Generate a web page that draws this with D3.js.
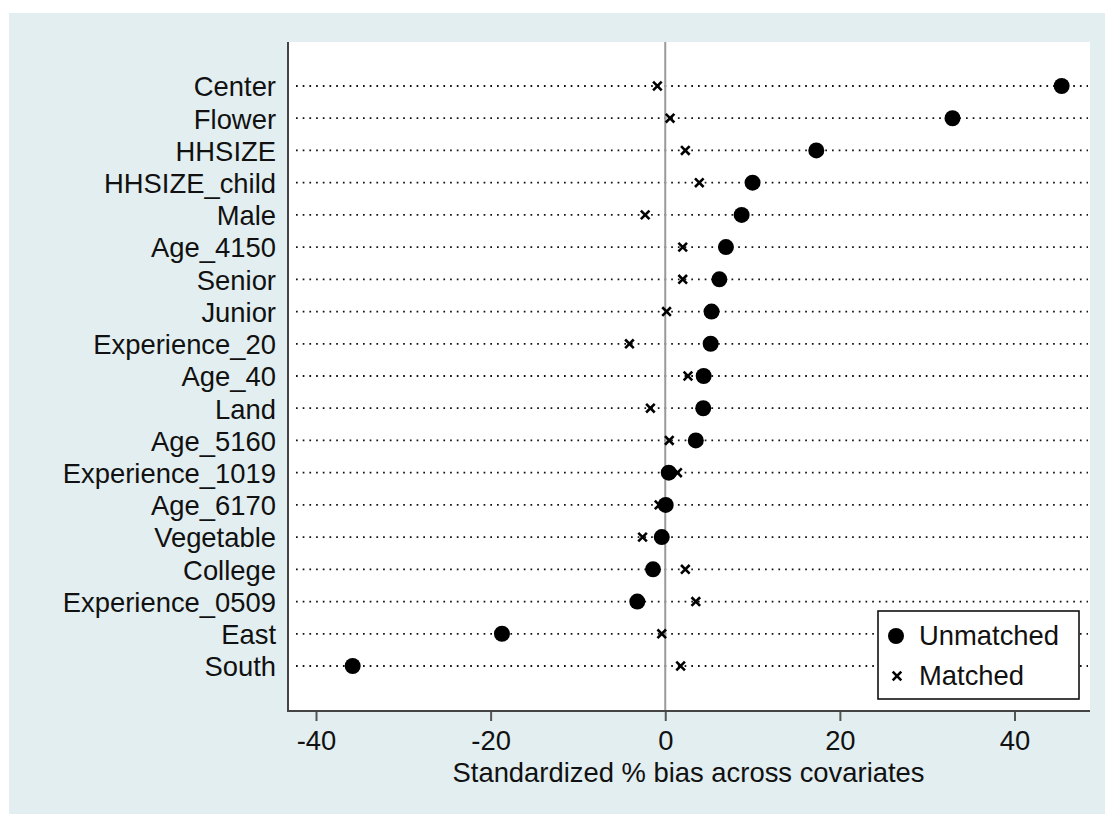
<!DOCTYPE html>
<html>
<head>
<meta charset="utf-8">
<script src="https://cdn.jsdelivr.net/npm/d3@7"></script>
<style>
html,body{margin:0;padding:0;background:#ffffff;}
svg{display:block;}
text{font-family:"Liberation Sans",Arial,sans-serif;fill:#111;}
</style>
</head>
<body>
<script>
const categories = ["Center","Flower","HHSIZE","HHSIZE_child","Male","Age_4150","Senior","Junior","Experience_20","Age_40","Land","Age_5160","Experience_1019","Age_6170","Vegetable","College","Experience_0509","East","South"];
const unmatched = [45.4,32.9,17.3,10.0,8.75,6.95,6.2,5.3,5.2,4.4,4.35,3.5,0.4,0.05,-0.4,-1.4,-3.2,-18.7,-35.8];
const matched = [-0.9,0.55,2.3,3.9,-2.3,2.0,2.0,0.15,-4.1,2.6,-1.7,0.46,1.4,-0.7,-2.6,2.3,3.5,-0.4,1.76];
const xTicks = [-40,-20,0,20,40];
const xTitle = "Standardized % bias across covariates";
const legendLabels = ["Unmatched","Matched"];

const W = 1105, H = 814;
const FS = 27.4;
const svg = d3.select("body").append("svg").attr("width", W).attr("height", H);

// outer background
svg.append("rect").attr("x", 9).attr("y", 13).attr("width", W - 9).attr("height", H - 13).attr("fill", "#e2eef0");

const plot = {left: 289, right: 1090, top: 42, bottom: 711};
svg.append("rect").attr("x", plot.left).attr("y", plot.top)
  .attr("width", plot.right - plot.left).attr("height", plot.bottom - plot.top).attr("fill", "#ffffff");

const x = d3.scaleLinear().domain([-40, 40]).range([316, 1014.5]);
const y = d3.scalePoint().domain(categories).range([86, 666]);

// dotted row lines
svg.append("g").selectAll("line").data(categories).join("line")
  .attr("x1", 296).attr("x2", 1088)
  .attr("y1", d => y(d)).attr("y2", d => y(d))
  .attr("stroke", "#111").attr("stroke-width", 1.8)
  .attr("stroke-dasharray", "1.7,5");

// zero line
svg.append("line").attr("x1", x(0)).attr("x2", x(0)).attr("y1", plot.top).attr("y2", plot.bottom)
  .attr("stroke", "#9a9a9a").attr("stroke-width", 2);

// axes
const xAxis = d3.axisBottom(x).tickValues(xTicks).tickSize(10).tickPadding(10).tickFormat(d3.format("d"));
const gx = svg.append("g").attr("transform", `translate(0,${plot.bottom})`).call(xAxis);
gx.select(".domain").remove();
gx.selectAll(".tick line").attr("stroke", "#555").attr("stroke-width", 2);
gx.selectAll(".tick text").attr("font-size", FS).attr("fill", "#111")
  .attr("font-family", "'Liberation Sans', Arial, sans-serif")
  .text(d => d < 0 ? "-" + Math.abs(d) : d);
svg.append("line").attr("x1", plot.left - 1).attr("x2", plot.right).attr("y1", plot.bottom).attr("y2", plot.bottom)
  .attr("stroke", "#444").attr("stroke-width", 2);

const yAxis = d3.axisLeft(y).tickSize(0).tickPadding(12);
const gy = svg.append("g").attr("transform", `translate(${plot.left - 1},0)`).call(yAxis);
gy.select(".domain").remove();
gy.selectAll(".tick text").attr("font-size", FS).attr("fill", "#111")
  .attr("font-family", "'Liberation Sans', Arial, sans-serif")
  .attr("dy", "0.36em");
svg.append("line").attr("x1", plot.left - 1).attr("x2", plot.left - 1).attr("y1", plot.top).attr("y2", plot.bottom + 1)
  .attr("stroke", "#444").attr("stroke-width", 2);

// axis title
svg.append("text").attr("x", 688.5).attr("y", 782)
  .attr("text-anchor", "middle").attr("font-size", FS).text(xTitle);

// markers
const crossPath = s => `M${-s},${-s}L${s},${s}M${-s},${s}L${s},${-s}`;
svg.append("g").selectAll("path").data(categories).join("path")
  .attr("transform", (d, i) => `translate(${x(matched[i])},${y(d)})`)
  .attr("d", crossPath(4.3)).attr("stroke", "#000").attr("stroke-width", 2.6).attr("fill", "none");
svg.append("g").selectAll("circle").data(categories).join("circle")
  .attr("cx", (d, i) => x(unmatched[i])).attr("cy", d => y(d)).attr("r", 8).attr("fill", "#000");

// legend
const lg = svg.append("g");
lg.append("rect").attr("x", 878).attr("y", 611).attr("width", 201).attr("height", 88)
  .attr("fill", "#fff").attr("stroke", "#111").attr("stroke-width", 1.6);
lg.append("circle").attr("cx", 896).attr("cy", 636).attr("r", 8).attr("fill", "#000");
lg.append("path").attr("transform", "translate(897,676)").attr("d", crossPath(4.3))
  .attr("stroke", "#000").attr("stroke-width", 2.6).attr("fill", "none");
lg.append("text").attr("x", 919).attr("y", 645).attr("font-size", FS).text(legendLabels[0]);
lg.append("text").attr("x", 919).attr("y", 685).attr("font-size", FS).text(legendLabels[1]);
</script>
</body>
</html>
